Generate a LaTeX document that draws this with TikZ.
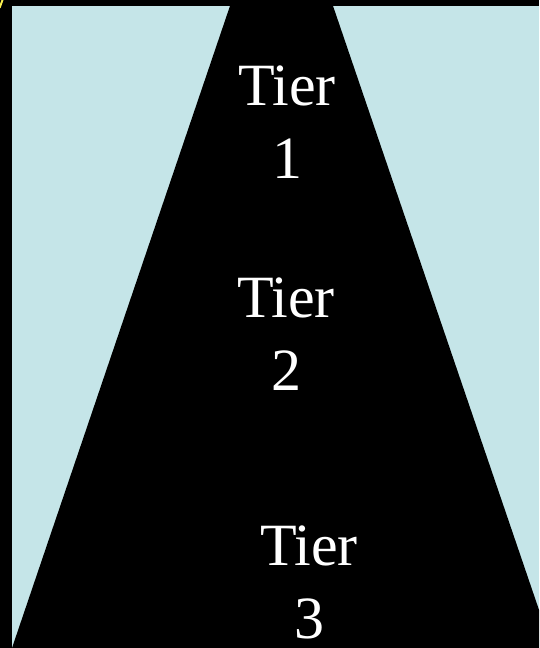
\documentclass[tikz,border=0pt]{standalone}
\usepackage{fontspec}
\setmainfont{Liberation Serif}
\usepackage{xcolor}
\usetikzlibrary{positioning}

\definecolor{paleblue}{RGB}{197,229,232}
\definecolor{cornerylw}{RGB}{250,240,80}

\begin{document}
\begin{tikzpicture}[
    x=1pt,y=-1pt,
    tier/.style={text=white,align=center,font=\fontsize{60}{73}\selectfont,inner sep=0pt},
]
    \useasboundingbox (0,0) rectangle (539,648);
    \fill[black] (0,0) rectangle (539,648);
    \fill[paleblue] (12,6) rectangle (539,648);
    \fill[cornerylw] (1.5,0) -- (3.5,0) -- (0.6,8) -- (0,8) -- (0,4) -- cycle;

    % the black pyramid
    \begin{scope}
        \clip (0,0) rectangle (539,648);
        \fill[black] (232,0) -- (331,0) -- (552,648) -- (12,648) -- cycle;
    \end{scope}

    % base anchor = baseline of the last line
    \node[tier,anchor=base] (tier1) at (287,178) {Tier\\1};
    \node[tier,anchor=base] (tier2) at (286,390) {Tier\\2};
    \node[tier,anchor=base] (tier3) at (309,638) {Tier\\3};
\end{tikzpicture}
\end{document}
